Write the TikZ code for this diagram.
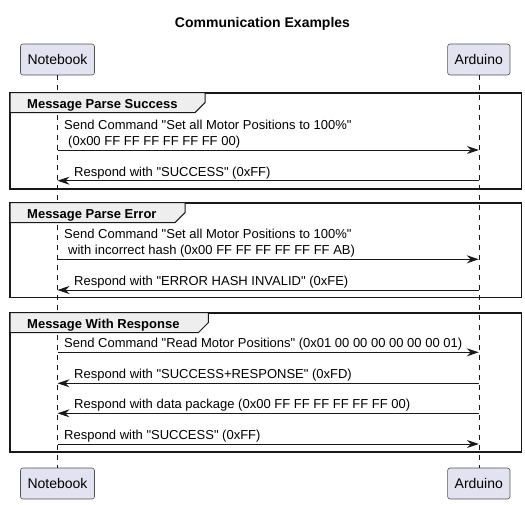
\documentclass[tikz,border=0pt]{standalone}
\usepackage{fontspec}
\setmainfont{Liberation Sans}
\usetikzlibrary{arrows.meta}
\definecolor{partfill}{HTML}{E2E2F0}
\definecolor{umlline}{HTML}{181818}
\definecolor{tabfill}{HTML}{EEEEEE}
\def\qt{\textquotedbl}
\tikzset{
	part/.style={draw=umlline!75, fill=partfill, rounded corners=2.5pt, line width=0.6pt,
		minimum height=31, inner sep=0pt, font=\fontsize{14}{16}\selectfont},
	life/.style={draw=umlline, line width=0.5pt, dash pattern=on 5pt off 5pt},
	msg/.style={draw=umlline, line width=1pt, -{Stealth[length=12pt, width=8pt, inset=4pt]}},
	lbl/.style={anchor=base west, inner sep=0pt, font=\fontsize{13}{15.7}\selectfont},
	grpframe/.style={draw=umlline, line width=1.6pt},
	grptab/.style={draw=umlline, fill=tabfill, line width=1pt},
	grptitle/.style={anchor=base west, inner sep=0pt, font=\fontsize{13}{15}\selectfont\bfseries},
}
% group frame: (top,bottom,tab right)(name){title}
\def\msggroup(#1,#2,#3)(#4)#5{%
	\draw[grpframe] (10,#1) rectangle (521.3,#2);
	\draw[grptab] (10,#1) -- (#3,#1) -- (#3,#1+10) -- (#3-10,#1+20) -- (10,#1+20) -- cycle;
	\node[grptitle] (#4) at (27,#1+15.5) {#5};
}
\begin{document}
\begin{tikzpicture}[x=1pt, y=-1pt]
	%%%%% START %%%%%
	\useasboundingbox (0,0) rectangle (525,504);
	
	\node[font=\fontsize{14}{16}\selectfont\bfseries, inner sep=0pt] (title) at (262.5,24) {Communication Examples};
	
	% participants
	\node[part, minimum width=74] (nbtop) at (57.5,59.5) {Notebook};
	\node[part, minimum width=62.3] (ardtop) at (478.8,59.5) {Arduino};
	\node[part, minimum width=74] (nbbot) at (57.5,483.5) {Notebook};
	\node[part, minimum width=62.3] (ardbot) at (478.8,483.5) {Arduino};
	
	\draw[life] (nbtop.south) -- (nbbot.north);
	\draw[life] (ardtop.south) -- (ardbot.north);
	
	% Message Parse Success
	\msggroup(92.7,188.7,205)(g1){Message Parse Success}
	\node[lbl] (t1a) at (64,129.3) {Send Command \qt Set all Motor Positions to 100\%\qt};
	\node[lbl] (t1b) at (68,145) {(0x00 FF FF FF FF FF FF 00)};
	\draw[msg] (nbtop |- 0,150) -- (ardtop |- 0,150);
	\node[lbl] (t2) at (74,176) {Respond with \qt SUCCESS\qt{} (0xFF)};
	\draw[msg] (ardtop |- 0,180.7) -- (nbtop |- 0,180.7);
	
	% Message Parse Error
	\msggroup(202.7,297.3,185)(g2){Message Parse Error}
	\node[lbl] (t3a) at (64,238.6) {Send Command \qt Set all Motor Positions to 100\%\qt};
	\node[lbl] (t3b) at (68,254.3) {with incorrect hash (0x00 FF FF FF FF FF FF AB)};
	\draw[msg] (nbtop |- 0,259.3) -- (ardtop |- 0,259.3);
	\node[lbl] (t4) at (74,285.3) {Respond with \qt ERROR HASH INVALID\qt{} (0xFE)};
	\draw[msg] (ardtop |- 0,290) -- (nbtop |- 0,290);
	
	% Message With Response
	\msggroup(312.7,451.7,208.3)(g3){Message With Response}
	\node[lbl] (t5) at (64,347.6) {Send Command \qt Read Motor Positions\qt{} (0x01 00 00 00 00 00 00 01)};
	\draw[msg] (nbtop |- 0,352.3) -- (ardtop |- 0,352.3);
	\node[lbl] (t6) at (74,378.6) {Respond with \qt SUCCESS+RESPONSE\qt{} (0xFD)};
	\draw[msg] (ardtop |- 0,383.3) -- (nbtop |- 0,383.3);
	\node[lbl] (t7) at (74,408.6) {Respond with data package (0x00 FF FF FF FF FF FF 00)};
	\draw[msg] (ardtop |- 0,413.3) -- (nbtop |- 0,413.3);
	\node[lbl] (t8) at (64,439.3) {Respond with \qt SUCCESS\qt{} (0xFF)};
	\draw[msg] (nbtop |- 0,444) -- (ardtop |- 0,444);
	
	%%%%% END %%%%%
\end{tikzpicture}
\end{document}
